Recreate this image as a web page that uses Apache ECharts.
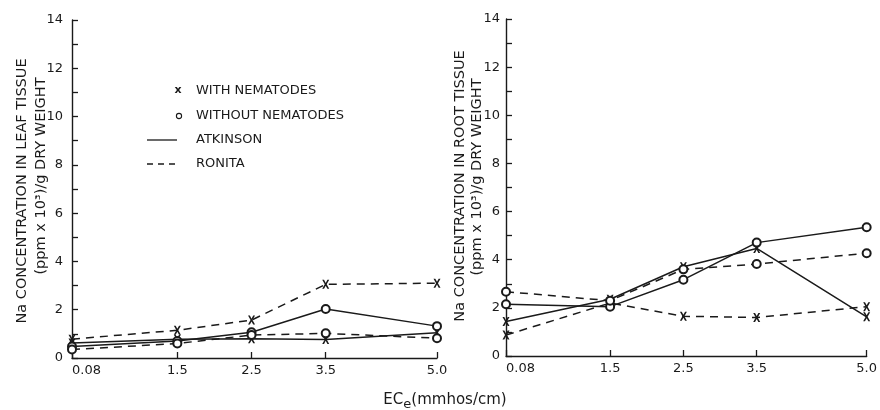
<!DOCTYPE html>
<html>
<head>
<meta charset="utf-8">
<script src="https://cdn.jsdelivr.net/npm/echarts@6/dist/echarts.min.js"></script>
<style>
html,body{margin:0;padding:0;background:#fff;}
#chart{width:880px;height:410px;}
</style>
</head>
<body>
<div id="chart"></div>
<script>
// ---- data ----
const ec = [0.08, 1.5, 2.5, 3.5, 5.0];
const xTickLabels = ['0.08', '1.5', '2.5', '3.5', '5.0'];
const yTicks = [0, 2, 4, 6, 8, 10, 12, 14];

// Leaf tissue (left panel)
const leafAtkinsonWith    = [0.62, 0.78, 0.80, 0.77, 1.05];
const leafAtkinsonWithout = [0.48, 0.70, 1.07, 2.03, 1.32];
const leafRonitaWith      = [0.78, 1.15, 1.57, 3.05, 3.10];
const leafRonitaWithout   = [0.35, 0.60, 0.95, 1.02, 0.82];

// Root tissue (right panel)
const rootAtkinsonWith    = [1.43, 2.36, 3.71, 4.47, 1.63];
const rootAtkinsonWithout = [2.15, 2.05, 3.17, 4.71, 5.35];
const rootRonitaWith      = [0.87, 2.20, 1.65, 1.60, 2.05];
const rootRonitaWithout   = [2.67, 2.30, 3.60, 3.82, 4.27];

const legendLabels = ['WITH NEMATODES', 'WITHOUT NEMATODES', 'ATKINSON', 'RONITA'];
const leafTitle = ['Na CONCENTRATION IN LEAF TISSUE', '(ppm x 10³)/g DRY WEIGHT'];
const rootTitle = ['Na CONCENTRATION IN ROOT TISSUE', '(ppm x 10³)/g DRY WEIGHT'];

// ---- styling ----
const INK = '#1a1a1a';
const FONT = 'DejaVu Sans';
const crossPath = 'path://M0,0L2.6,0L5,3.4L7.4,0L10,0L6.4,5L10,10L7.4,10L5,6.6L2.6,10L0,10L3.6,5Z';

function pairs(ys) { return ec.map((x, i) => [x, ys[i]]); }

function mkSeries(name, ys, gridIdx, dashed, withNem) {
  return {
    name: name,
    type: 'line',
    xAxisIndex: gridIdx,
    yAxisIndex: gridIdx,
    data: pairs(ys),
    symbol: withNem ? crossPath : 'emptyCircle',
    symbolSize: withNem ? [7, 9] : 8,
    showSymbol: true,
    silent: true,
    lineStyle: { color: INK, width: 1.5, type: dashed ? [8, 6] : 'solid' },
    itemStyle: withNem ? { color: INK, borderWidth: 0 } : { color: INK, borderColor: INK, borderWidth: 1.5 },
    z: withNem ? 3 : 4
  };
}

function xAxisCfg(gridIdx) {
  return {
    type: 'value', gridIndex: gridIdx, min: 0.08, max: 5.0,
    axisLine: { show: true, onZero: false, lineStyle: { color: INK, width: 1.4 } },
    axisTick: { show: true, inside: true, length: 6, customValues: ec, lineStyle: { color: INK, width: 1.3 } },
    axisLabel: {
      customValues: ec, margin: 6, color: INK, fontFamily: FONT, fontSize: 13,
      alignMinLabel: 'left',
      formatter: function (v) {
        for (let i = 0; i < ec.length; i++) if (Math.abs(ec[i] - v) < 1e-6) return xTickLabels[i];
        return '';
      }
    },
    splitLine: { show: false }
  };
}

function yAxisCfg(gridIdx, margin) {
  return {
    type: 'value', gridIndex: gridIdx, min: 0, max: 14, interval: 1,
    axisLine: { show: true, onZero: false, lineStyle: { color: INK, width: 1.4 } },
    axisTick: { show: true, inside: true, length: 6, lineStyle: { color: INK, width: 1.3 } },
    axisLabel: { customValues: yTicks, margin: margin, color: INK, fontFamily: FONT, fontSize: 13 },
    splitLine: { show: false }
  };
}

function vTitle(txt, cx, cy) {
  return {
    type: 'text', x: cx, y: cy, rotation: Math.PI / 2, silent: true,
    style: { text: txt, fill: INK, font: '14.5px "DejaVu Sans"', align: 'center', verticalAlign: 'middle' }
  };
}

const legendText = (t, y) => ({
  type: 'text', x: 196, y: y, silent: true,
  style: { text: t, fill: INK, font: '13px "DejaVu Sans"', align: 'left', verticalAlign: 'middle' }
});

const graphics = [
  vTitle(leafTitle[0], 22, 191),
  vTitle(leafTitle[1], 41, 176),
  vTitle(rootTitle[0], 460, 186),
  vTitle(rootTitle[1], 477, 177),
  // legend
  { type: 'text', x: 178, y: 90, silent: true,
    style: { text: 'x', fill: INK, font: 'bold 11px "DejaVu Sans"', align: 'center', verticalAlign: 'middle' } },
  legendText(legendLabels[0], 91),
  { type: 'circle', shape: { cx: 179, cy: 116, r: 2.6 }, silent: true,
    style: { fill: '#fff', stroke: INK, lineWidth: 1.1 } },
  legendText(legendLabels[1], 116),
  { type: 'line', shape: { x1: 147, y1: 140, x2: 177, y2: 140 }, silent: true,
    style: { stroke: INK, lineWidth: 1.3 } },
  legendText(legendLabels[2], 140),
  { type: 'line', shape: { x1: 147, y1: 164, x2: 177, y2: 164 }, silent: true,
    style: { stroke: INK, lineWidth: 1.3, lineDash: [6, 5] } },
  legendText(legendLabels[3], 164),
  // x axis title
  { type: 'text', x: 445, y: 400, silent: true,
    style: {
      text: '{a|EC}{b|e}{a|(mmhos/cm)}', fill: INK, align: 'center', verticalAlign: 'middle',
      rich: {
        a: { fontSize: 15, fontFamily: FONT, fill: INK },
        b: { fontSize: 13, fontFamily: FONT, fill: INK, padding: [10, 0, 0, 0] }
      }
    } }
];

const option = {
  backgroundColor: '#ffffff',
  animation: false,
  grid: [
    { left: 72, right: 443, top: 20, bottom: 52 },
    { left: 506, right: 12, top: 19, bottom: 54 }
  ],
  xAxis: [xAxisCfg(0), xAxisCfg(1)],
  yAxis: [yAxisCfg(0, 9), yAxisCfg(1, 6)],
  series: [
    mkSeries('Leaf Atkinson with nematodes', leafAtkinsonWith, 0, false, true),
    mkSeries('Leaf Atkinson without nematodes', leafAtkinsonWithout, 0, false, false),
    mkSeries('Leaf Ronita with nematodes', leafRonitaWith, 0, true, true),
    mkSeries('Leaf Ronita without nematodes', leafRonitaWithout, 0, true, false),
    mkSeries('Root Atkinson with nematodes', rootAtkinsonWith, 1, false, true),
    mkSeries('Root Atkinson without nematodes', rootAtkinsonWithout, 1, false, false),
    mkSeries('Root Ronita with nematodes', rootRonitaWith, 1, true, true),
    mkSeries('Root Ronita without nematodes', rootRonitaWithout, 1, true, false)
  ],
  graphic: graphics
};

const chart = echarts.init(document.getElementById('chart'), null, { renderer: 'canvas' });
chart.setOption(option);
</script>
</body>
</html>
